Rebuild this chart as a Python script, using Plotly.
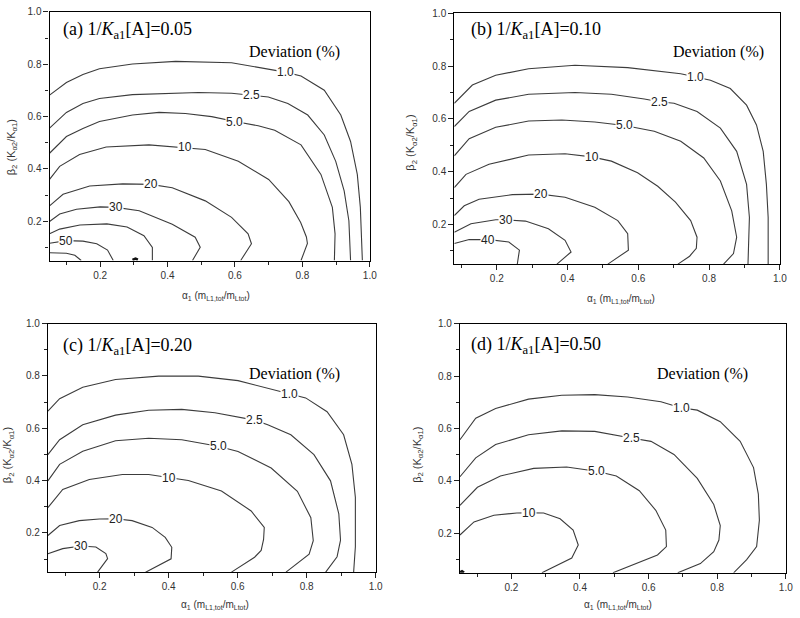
import plotly.graph_objects as go

# ---------------- data ----------------
# x tick values / labels shared by all panels
tick_vals = [0.2, 0.4, 0.6, 0.8, 1.0]
tick_text = ["0.2", "0.4", "0.6", "0.8", "1.0"]
minor_vals = [0.1, 0.3, 0.5, 0.7, 0.9]

# panel (a)  1/Ka1[A] = 0.05
a_1p0_x = [0.05, 0.100, 0.149, 0.198, 0.296, 0.424, 0.590, 0.727, 0.749, 0.796, 0.865, 0.914, 0.943, 0.963, 0.972, 0.978]
a_1p0_y = [0.682, 0.730, 0.761, 0.783, 0.801, 0.811, 0.806, 0.777, 0.770, 0.755, 0.701, 0.606, 0.505, 0.379, 0.253, 0.05]
a_2p5_x = [0.05, 0.100, 0.149, 0.198, 0.296, 0.394, 0.492, 0.590, 0.649, 0.699, 0.757, 0.816, 0.865, 0.899, 0.924, 0.938, 0.943]
a_2p5_y = [0.556, 0.616, 0.650, 0.669, 0.684, 0.689, 0.692, 0.689, 0.682, 0.675, 0.650, 0.606, 0.530, 0.429, 0.316, 0.202, 0.05]
a_5p0_x = [0.05, 0.100, 0.149, 0.198, 0.296, 0.375, 0.453, 0.531, 0.600, 0.669, 0.718, 0.796, 0.855, 0.889, 0.897, 0.895]
a_5p0_y = [0.460, 0.524, 0.555, 0.581, 0.606, 0.616, 0.612, 0.600, 0.581, 0.565, 0.548, 0.492, 0.379, 0.253, 0.152, 0.05]
a_10_x = [0.05, 0.080, 0.139, 0.218, 0.345, 0.450, 0.512, 0.610, 0.700, 0.760, 0.795, 0.812, 0.815, 0.796]
a_10_y = [0.360, 0.410, 0.455, 0.484, 0.492, 0.482, 0.474, 0.429, 0.360, 0.275, 0.195, 0.140, 0.115, 0.05]
a_20_x = [0.05, 0.090, 0.169, 0.267, 0.350, 0.414, 0.512, 0.590, 0.639, 0.649, 0.617]
a_20_y = [0.259, 0.303, 0.335, 0.343, 0.341, 0.328, 0.278, 0.215, 0.152, 0.114, 0.05]
a_30_x = [0.05, 0.08, 0.13, 0.20, 0.247, 0.316, 0.414, 0.482, 0.497, 0.474]
a_30_y = [0.199, 0.228, 0.246, 0.255, 0.253, 0.240, 0.189, 0.139, 0.101, 0.05]
a_40_x = [0.05, 0.08, 0.14, 0.22, 0.28, 0.33, 0.355, 0.355]
a_40_y = [0.152, 0.170, 0.186, 0.190, 0.178, 0.145, 0.100, 0.05]
a_50_x = [0.05, 0.100, 0.149, 0.19, 0.222, 0.239]
a_50_y = [0.116, 0.126, 0.124, 0.114, 0.090, 0.05]
a_60_x = [0.05, 0.10, 0.125, 0.144]
a_60_y = [0.080, 0.078, 0.070, 0.05]
a_blob_x = [0.296, 0.305, 0.312]
a_blob_y = [0.052, 0.057, 0.053]

# panel (b)  1/Ka1[A] = 0.10
b_1p0_x = [0.08, 0.131, 0.197, 0.290, 0.421, 0.570, 0.720, 0.762, 0.804, 0.860, 0.906, 0.934, 0.953, 0.962, 0.967, 0.967]
b_1p0_y = [0.659, 0.728, 0.765, 0.790, 0.803, 0.794, 0.771, 0.759, 0.746, 0.715, 0.652, 0.577, 0.477, 0.352, 0.227, 0.05]
b_2p5_x = [0.08, 0.122, 0.197, 0.290, 0.421, 0.524, 0.617, 0.659, 0.701, 0.766, 0.832, 0.878, 0.906, 0.914, 0.910]
b_2p5_y = [0.571, 0.628, 0.671, 0.693, 0.700, 0.693, 0.675, 0.665, 0.659, 0.628, 0.565, 0.477, 0.352, 0.227, 0.05]
b_5p0_x = [0.08, 0.122, 0.197, 0.290, 0.384, 0.477, 0.561, 0.645, 0.720, 0.785, 0.832, 0.864, 0.878, 0.869, 0.841]
b_5p0_y = [0.460, 0.525, 0.568, 0.592, 0.596, 0.588, 0.575, 0.553, 0.515, 0.452, 0.365, 0.252, 0.152, 0.090, 0.05]
b_10_x = [0.08, 0.113, 0.178, 0.290, 0.393, 0.468, 0.524, 0.598, 0.655, 0.705, 0.748, 0.766, 0.764, 0.745, 0.712]
b_10_y = [0.340, 0.390, 0.428, 0.463, 0.468, 0.456, 0.440, 0.396, 0.345, 0.285, 0.215, 0.152, 0.110, 0.080, 0.05]
b_20_x = [0.08, 0.108, 0.150, 0.244, 0.323, 0.393, 0.477, 0.542, 0.570, 0.572, 0.514]
b_20_y = [0.234, 0.271, 0.296, 0.313, 0.315, 0.303, 0.265, 0.215, 0.165, 0.103, 0.05]
b_30_x = [0.08, 0.127, 0.197, 0.225, 0.281, 0.346, 0.393, 0.410, 0.370]
b_30_y = [0.171, 0.203, 0.218, 0.218, 0.213, 0.184, 0.140, 0.096, 0.05]
b_40_x = [0.08, 0.122, 0.178, 0.234, 0.264, 0.258]
b_40_y = [0.128, 0.143, 0.143, 0.134, 0.103, 0.05]

# panel (c)  1/Ka1[A] = 0.20
c_1p0_x = [0.05, 0.084, 0.151, 0.246, 0.371, 0.486, 0.601, 0.716, 0.749, 0.797, 0.859, 0.907, 0.931, 0.941, 0.941, 0.941, 0.936]
c_1p0_y = [0.665, 0.713, 0.757, 0.786, 0.799, 0.799, 0.782, 0.745, 0.732, 0.716, 0.663, 0.575, 0.462, 0.336, 0.223, 0.147, 0.05]
c_2p5_x = [0.05, 0.084, 0.151, 0.246, 0.342, 0.438, 0.534, 0.615, 0.649, 0.687, 0.754, 0.821, 0.869, 0.893, 0.898, 0.888, 0.855]
c_2p5_y = [0.499, 0.556, 0.613, 0.650, 0.669, 0.672, 0.659, 0.640, 0.631, 0.613, 0.575, 0.499, 0.399, 0.273, 0.172, 0.109, 0.05]
c_5p0_x = [0.05, 0.084, 0.151, 0.246, 0.342, 0.438, 0.543, 0.601, 0.697, 0.773, 0.812, 0.819, 0.807, 0.740]
c_5p0_y = [0.399, 0.462, 0.512, 0.552, 0.562, 0.556, 0.531, 0.511, 0.448, 0.359, 0.258, 0.170, 0.119, 0.05]
c_10_x = [0.05, 0.093, 0.170, 0.266, 0.342, 0.400, 0.457, 0.553, 0.639, 0.677, 0.675, 0.668, 0.649, 0.582]
c_10_y = [0.297, 0.366, 0.404, 0.423, 0.423, 0.411, 0.400, 0.360, 0.284, 0.221, 0.175, 0.133, 0.107, 0.05]
c_20_x = [0.05, 0.084, 0.141, 0.199, 0.246, 0.294, 0.352, 0.390, 0.409, 0.407, 0.333]
c_20_y = [0.190, 0.228, 0.247, 0.253, 0.254, 0.247, 0.221, 0.183, 0.145, 0.101, 0.05]
c_30_x = [0.05, 0.093, 0.146, 0.189, 0.218, 0.223, 0.194]
c_30_y = [0.120, 0.140, 0.150, 0.146, 0.121, 0.102, 0.05]

# panel (d)  1/Ka1[A] = 0.50
d_1p0_x = [0.05, 0.096, 0.154, 0.250, 0.347, 0.443, 0.539, 0.636, 0.694, 0.742, 0.809, 0.867, 0.906, 0.920, 0.923, 0.915, 0.886, 0.848]
d_1p0_y = [0.557, 0.639, 0.676, 0.712, 0.727, 0.729, 0.720, 0.702, 0.679, 0.670, 0.626, 0.551, 0.451, 0.350, 0.250, 0.150, 0.100, 0.05]
d_2p5_x = [0.05, 0.096, 0.154, 0.250, 0.347, 0.443, 0.549, 0.607, 0.674, 0.742, 0.790, 0.809, 0.805, 0.790, 0.751, 0.685]
d_2p5_y = [0.416, 0.488, 0.539, 0.576, 0.591, 0.589, 0.564, 0.551, 0.501, 0.410, 0.310, 0.230, 0.175, 0.130, 0.085, 0.05]
d_5p0_x = [0.05, 0.101, 0.168, 0.265, 0.361, 0.448, 0.506, 0.573, 0.621, 0.650, 0.652, 0.626, 0.496]
d_5p0_y = [0.307, 0.376, 0.419, 0.448, 0.453, 0.437, 0.419, 0.363, 0.288, 0.213, 0.150, 0.118, 0.05]
d_10_x = [0.05, 0.091, 0.149, 0.216, 0.250, 0.294, 0.342, 0.380, 0.395, 0.376, 0.289]
d_10_y = [0.194, 0.244, 0.269, 0.278, 0.279, 0.278, 0.256, 0.213, 0.156, 0.106, 0.05]
d_blob_x = [0.05, 0.056, 0.062]
d_blob_y = [0.052, 0.056, 0.051]

# contour labels (text, x, y)
a_labels = [("1.0", 0.749, 0.770), ("2.5", 0.649, 0.682), ("5.0", 0.600, 0.581), ("10", 0.453, 0.482),
            ("20", 0.350, 0.341), ("30", 0.247, 0.253), ("50", 0.100, 0.126)]
b_labels = [("1.0", 0.762, 0.759), ("2.5", 0.659, 0.665), ("5.0", 0.561, 0.575), ("10", 0.468, 0.455),
            ("20", 0.325, 0.314), ("30", 0.225, 0.218), ("40", 0.175, 0.143)]
c_labels = [("1.0", 0.749, 0.731), ("2.5", 0.649, 0.630), ("5.0", 0.543, 0.531), ("10", 0.400, 0.411),
            ("20", 0.246, 0.254), ("30", 0.146, 0.150)]
d_labels = [("1.0", 0.695, 0.679), ("2.5", 0.549, 0.564), ("5.0", 0.448, 0.437), ("10", 0.250, 0.279)]

titles = ["(a) 1/<i>K</i><sub>a1</sub>[A]=0.05", "(b) 1/<i>K</i><sub>a1</sub>[A]=0.10",
          "(c) 1/<i>K</i><sub>a1</sub>[A]=0.20", "(d) 1/<i>K</i><sub>a1</sub>[A]=0.50"]
dev_text = "Deviation (%)"
x_title = "α<sub>1</sub> (m<sub>L1,tot</sub>/m<sub>Ltot</sub>)"
y_title = "β<sub>2</sub> (K<sub>α2</sub>/K<sub>α1</sub>)"

# ---------------- layout of the four panels ----------------
panels = [
    dict(ax="", xd=[0.0625, 0.4663], yd=[0.5841, 0.9903], xr=[0.05, 1.0],
         lines=[(a_1p0_x, a_1p0_y), (a_2p5_x, a_2p5_y), (a_5p0_x, a_5p0_y), (a_10_x, a_10_y),
                (a_20_x, a_20_y), (a_30_x, a_30_y), (a_40_x, a_40_y), (a_50_x, a_50_y),
                (a_60_x, a_60_y)],
         blob=(a_blob_x, a_blob_y), labels=a_labels, title=titles[0],
         tpos=(0.083, 0.928), dpos=(0.776, 0.846), xt=(0.2725, 0.526), yt=(0.015, 0.769)),
    dict(ax="2", xd=[0.5729, 0.9834], yd=[0.5782, 0.9882], xr=[0.08, 1.0],
         lines=[(b_1p0_x, b_1p0_y), (b_2p5_x, b_2p5_y), (b_5p0_x, b_5p0_y), (b_10_x, b_10_y),
                (b_20_x, b_20_y), (b_30_x, b_30_y), (b_40_x, b_40_y)],
         blob=None, labels=b_labels, title=titles[1],
         tpos=(0.122, 0.934), dpos=(0.827, 0.852), xt=(0.783, 0.521), yt=(0.519, 0.776)),
    dict(ax="3", xd=[0.0604, 0.4738], yd=[0.0749, 0.4811], xr=[0.05, 1.0],
         lines=[(c_1p0_x, c_1p0_y), (c_2p5_x, c_2p5_y), (c_5p0_x, c_5p0_y), (c_10_x, c_10_y),
                (c_20_x, c_20_y), (c_30_x, c_30_y)],
         blob=None, labels=c_labels, title=titles[2],
         tpos=(0.088, 0.914), dpos=(0.764, 0.808), xt=(0.271, 0.021), yt=(0.0104, 0.2665)),
    dict(ax="4", xd=[0.58, 0.9909], yd=[0.0739, 0.4811], xr=[0.05, 1.0],
         lines=[(d_1p0_x, d_1p0_y), (d_2p5_x, d_2p5_y), (d_5p0_x, d_5p0_y), (d_10_x, d_10_y)],
         blob=(d_blob_x, d_blob_y), labels=d_labels, title=titles[3],
         tpos=(0.077, 0.915), dpos=(0.756, 0.808), xt=(0.779, 0.021), yt=(0.527, 0.2665)),
]

LINE = "#3c3c3c"
SANS = "Liberation Sans, Arial, sans-serif"
SERIF = "Liberation Serif, Times New Roman, serif"

fig = go.Figure()
annotations = []
layout = dict(width=800, height=618, margin=dict(l=0, r=0, t=0, b=0),
              paper_bgcolor="white", plot_bgcolor="white", showlegend=False)

for p in panels:
    xa, ya = "x" + p["ax"], "y" + p["ax"]
    for xs, ys in p["lines"]:
        fig.add_trace(go.Scatter(x=xs, y=ys, mode="lines", xaxis=xa, yaxis=ya,
                                 line=dict(color=LINE, width=1.1), hoverinfo="skip"))
    if p["blob"] is not None:
        fig.add_trace(go.Scatter(x=p["blob"][0], y=p["blob"][1], mode="lines", xaxis=xa, yaxis=ya,
                                 line=dict(color="#111", width=2.5), hoverinfo="skip"))
    axis_common = dict(showline=True, linecolor="black", linewidth=1.2, mirror=True,
                       showgrid=False, zeroline=False, ticks="outside", ticklen=5, tickwidth=1,
                       tickcolor="#222", tickfont=dict(family=SANS, size=10, color="#333"),
                       tickvals=tick_vals, ticktext=tick_text,
                       minor=dict(tickvals=minor_vals, ticks="outside", ticklen=3, tickcolor="#222"))
    layout["xaxis" + p["ax"]] = dict(axis_common, domain=p["xd"], range=p["xr"], anchor=ya)
    layout["yaxis" + p["ax"]] = dict(axis_common, domain=p["yd"], range=[0.05, 1.0], anchor=xa)
    for txt, lx, ly in p["labels"]:
        annotations.append(dict(text=txt, x=lx, y=ly, xref=xa, yref=ya, showarrow=False,
                                font=dict(family=SANS, size=12, color="#222"),
                                bgcolor="white", borderpad=0, xanchor="center", yanchor="middle"))
    annotations.append(dict(text=p["title"], x=p["tpos"][0], y=p["tpos"][1], xref=xa, yref=ya,
                            showarrow=False, xanchor="left", yanchor="middle",
                            font=dict(family=SERIF, size=18, color="black")))
    annotations.append(dict(text=dev_text, x=p["dpos"][0], y=p["dpos"][1], xref=xa, yref=ya,
                            showarrow=False, xanchor="center", yanchor="middle",
                            font=dict(family=SERIF, size=16, color="black")))
    annotations.append(dict(text=x_title, x=p["xt"][0], y=p["xt"][1], xref="paper", yref="paper",
                            showarrow=False, xanchor="center", yanchor="middle",
                            font=dict(family=SANS, size=10, color="#333")))
    annotations.append(dict(text=y_title, x=p["yt"][0], y=p["yt"][1], xref="paper", yref="paper",
                            showarrow=False, xanchor="center", yanchor="middle", textangle=-90,
                            font=dict(family=SANS, size=11, color="#333")))

layout["annotations"] = annotations
fig.update_layout(**layout)
fig.write_html("out.html", config={"displayModeBar": False},
               post_script="document.body.style.margin='0px';")
